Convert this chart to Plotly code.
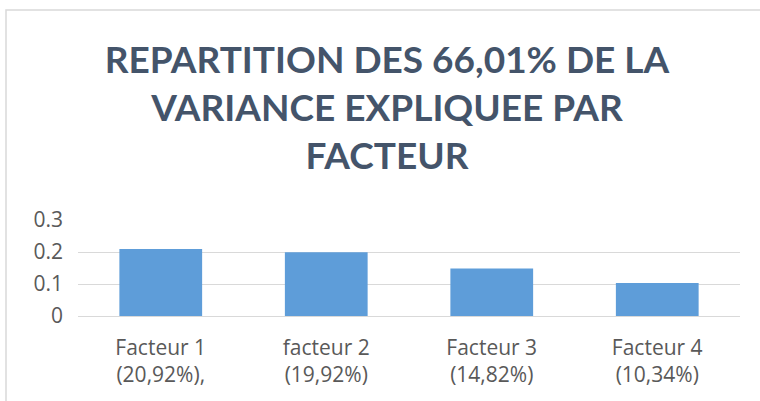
import plotly.graph_objects as go

categories = ["Facteur 1<br>(20,92%),", "facteur 2<br>(19,92%)", "Facteur 3<br>(14,82%)", "Facteur 4<br>(10,34%)"]
values = [0.2092, 0.1992, 0.1482, 0.1034]
title_text = "REPARTITION DES 66,01% DE LA<br>VARIANCE EXPLIQUEE PAR<br>FACTEUR"

W, H = 760, 401
ML, MR, MT, MB = 78, 20, 220, 85
pw = W - ML - MR
ph = H - MT - MB

def px_to_paper_x(px):
    return (px - ML) / pw

def px_to_paper_y(py):
    return (H - MB - py) / ph

fig = go.Figure(go.Bar(
    x=categories, y=values,
    marker=dict(color="#5E9DD9", line=dict(width=0)),
))

fig.update_layout(
    width=W, height=H,
    margin=dict(l=ML, r=MR, t=MT, b=MB, autoexpand=False),
    paper_bgcolor="white", plot_bgcolor="white",
    bargap=0.5,
    showlegend=False,
    title=dict(text=title_text, x=387/W, xanchor="center", y=1-73/H, yanchor="top",
               automargin=False,
               font=dict(family="Lato", size=37, color="#44546A", weight="bold")),
    font=dict(family="Open Sans", color="#595959"),
    shapes=[dict(type="rect", xref="paper", yref="paper",
                 x0=px_to_paper_x(6), x1=px_to_paper_x(W + 10),
                 y0=px_to_paper_y(H + 10), y1=px_to_paper_y(10),
                 line=dict(color="#D9D9D9", width=1.5), fillcolor="rgba(0,0,0,0)", layer="below")],
)
fig.update_yaxes(range=[0, 0.3], dtick=0.1, showgrid=True, gridcolor="#D9D9D9", gridwidth=1,
                 zeroline=True, zerolinecolor="#D9D9D9", zerolinewidth=1, automargin=False,
                 tickfont=dict(size=21, color="#595959"), ticks="", showline=False,
                 ticklabelstandoff=14)
fig.update_xaxes(showgrid=False, showline=False, ticks="", automargin=False,
                 tickfont=dict(size=21, color="#595959"), ticklabelstandoff=17)

fig.write_html("out.html", config={"displayModeBar": False},
               post_script="document.body.style.margin='0';")
